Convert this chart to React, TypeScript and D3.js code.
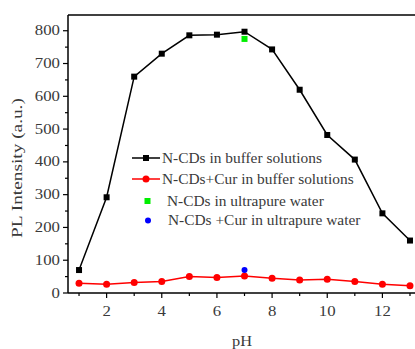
import React from "react";
import * as d3 from "d3";

const pH = [1, 2, 3, 4, 5, 6, 7, 8, 9, 10, 11, 12, 13];
const bufferNCDs = [70, 292, 660, 730, 786, 788, 797, 743, 620, 482, 407, 243, 160];
const bufferNCDsCur = [30, 27, 32, 35, 50, 47, 52, 45, 40, 42, 35, 27, 22];
const waterPH = [7];
const waterNCDs = [775];
const waterNCDsCur = [70];
const yTicks = [0, 100, 200, 300, 400, 500, 600, 700, 800];
const xTicks = [2, 4, 6, 8, 10, 12];
const legendLabels = [
  "N-CDs in buffer solutions",
  "N-CDs+Cur in buffer solutions",
  "N-CDs in ultrapure water",
  "N-CDs +Cur in ultrapure water",
];

const W = 415, H = 349;
const L = 68, R = 415.5, T = 15, B = 293;
const FONT = "Liberation Serif, Times New Roman, Times, serif";
const TXT = "#3a3a3a";

const Txt = ({ tx, ty, anchor, children, rotate, size = 14, sx = 1.15 }: any) => (
  <g transform={`translate(${tx},${ty}) ${rotate ? `rotate(${rotate})` : ""} scale(${sx},1)`}>
    <text style={{ fontFamily: FONT, fontSize: size }} fill={TXT} textAnchor={anchor}>{children}</text>
  </g>
);

export default function App() {
  const x = d3.scaleLinear().domain([0.6, 13.2]).range([L, R]);
  const y = d3.scaleLinear().domain([0, 848]).range([B, T]);
  const line = d3.line<number>().x((_, i) => x(pH[i])).y((d) => y(d));
  const minorY = d3.range(50, 850, 100);
  const minorX = d3.range(1, 14, 2);

  return (
    <svg width={W} height={H} style={{ position: "absolute", left: 0, top: 0, background: "#fff" }}>
      <line x1={L} x2={R} y1={T} y2={T} stroke="#000" strokeWidth={1.5} />
      <line x1={L} x2={L} y1={T} y2={B} stroke="#000" strokeWidth={1.5} />
      <line x1={L} x2={R} y1={B} y2={B} stroke="#000" strokeWidth={1.5} />
      {yTicks.map((v) => (
        <g key={"y" + v}>
          <line x1={L - 5} x2={L} y1={y(v)} y2={y(v)} stroke="#000" strokeWidth={1.2} />
          <Txt tx={L - 8} ty={y(v) + 4.5} anchor="end" size={14} sx={1.2}>{v}</Txt>
        </g>
      ))}
      {minorY.map((v) => (
        <line key={"my" + v} x1={L - 3} x2={L} y1={y(v)} y2={y(v)} stroke="#000" strokeWidth={1.2} />
      ))}
      {xTicks.map((v) => (
        <g key={"x" + v}>
          <line x1={x(v)} x2={x(v)} y1={B} y2={B + 5} stroke="#000" strokeWidth={1.2} />
          <Txt tx={x(v)} ty={B + 23} anchor="middle" size={14} sx={1.2}>{v}</Txt>
        </g>
      ))}
      {minorX.map((v) => (
        <line key={"mx" + v} x1={x(v)} x2={x(v)} y1={B} y2={B + 3} stroke="#000" strokeWidth={1.2} />
      ))}
      <Txt tx={242} ty={346} anchor="middle" size={14} sx={1.17}>pH</Txt>
      <Txt tx={22} ty={168} anchor="middle" rotate={-90} size={14} sx={1.38}>PL Intensity (a.u.)</Txt>

      <path d={line(bufferNCDs) || ""} fill="none" stroke="#000" strokeWidth={1.5} />
      {bufferNCDs.map((v, i) => (
        <rect key={"b" + i} x={x(pH[i]) - 3} y={y(v) - 3} width={6} height={6} fill="#000" />
      ))}
      <path d={line(bufferNCDsCur) || ""} fill="none" stroke="#ff0000" strokeWidth={1.5} />
      {bufferNCDsCur.map((v, i) => (
        <circle key={"r" + i} cx={x(pH[i])} cy={y(v)} r={3.5} fill="#ff0000" />
      ))}
      {waterNCDs.map((v, i) => (
        <rect key={"g" + i} x={x(waterPH[i]) - 3} y={y(v) - 3} width={6} height={6} fill="#00ee00" />
      ))}
      {waterNCDsCur.map((v, i) => (
        <circle key={"bl" + i} cx={x(waterPH[i])} cy={y(v)} r={3} fill="#0000ff" />
      ))}

      <line x1={132} x2={160} y1={158} y2={158} stroke="#000" strokeWidth={1.5} />
      <rect x={143} y={155} width={6} height={6} fill="#000" />
      <Txt tx={162} ty={162.5} anchor="start" size={14} sx={1.1}>{legendLabels[0]}</Txt>
      <line x1={132} x2={160} y1={179} y2={179} stroke="#ff0000" strokeWidth={1.5} />
      <circle cx={146} cy={179} r={3.5} fill="#ff0000" />
      <Txt tx={162} ty={183.5} anchor="start" size={14} sx={1.1}>{legendLabels[1]}</Txt>
      <rect x={144.5} y={198} width={6} height={6} fill="#00ee00" />
      <Txt tx={167} ty={205.5} anchor="start" size={14} sx={1.1}>{legendLabels[2]}</Txt>
      <circle cx={148} cy={220.5} r={3} fill="#0000ff" />
      <Txt tx={168} ty={225} anchor="start" size={14} sx={1.1}>{legendLabels[3]}</Txt>
    </svg>
  );
}
